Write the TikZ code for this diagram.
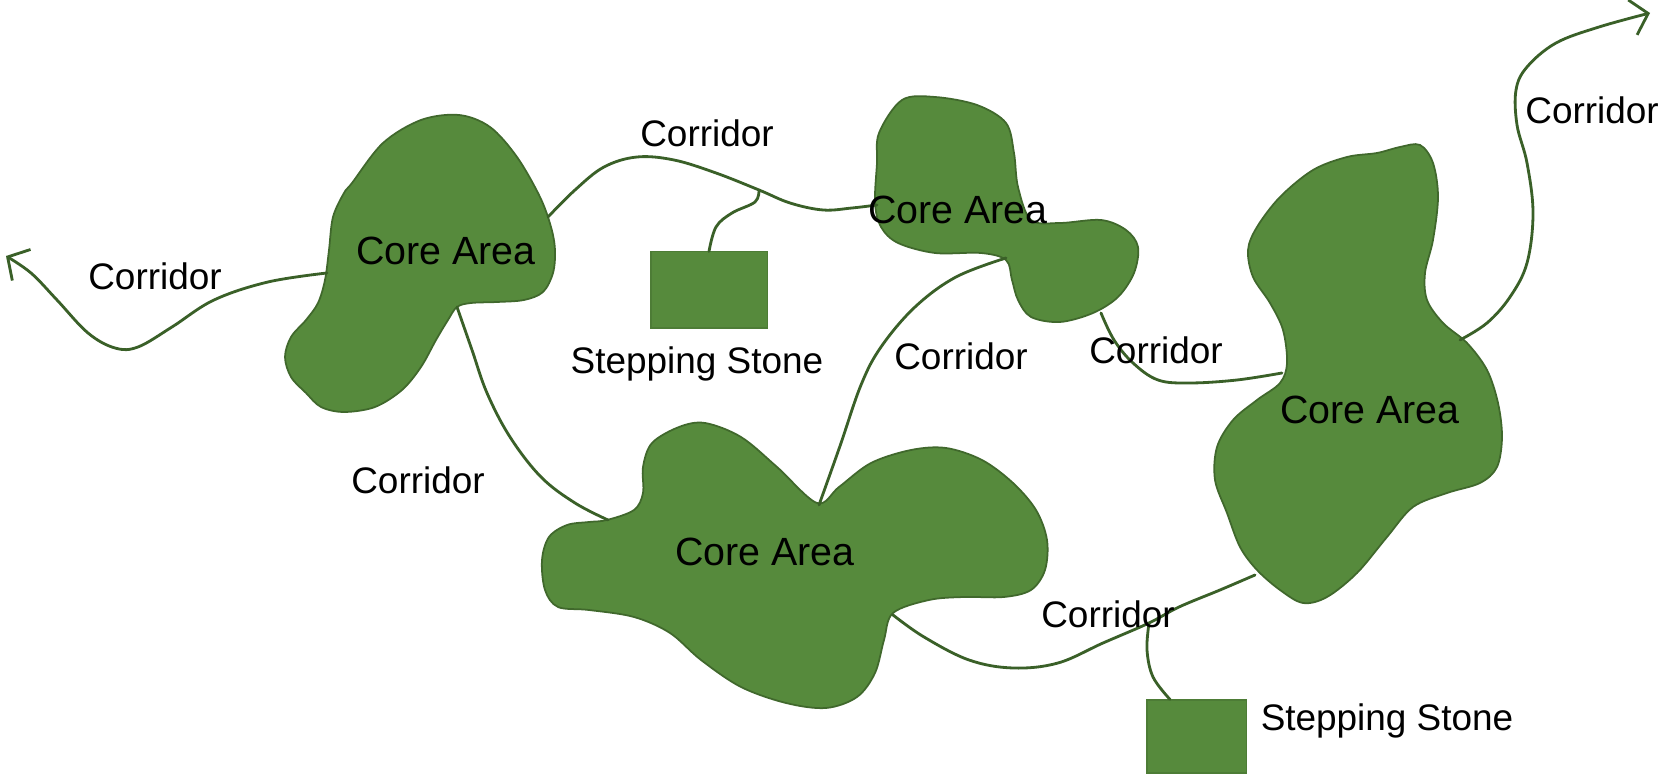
\documentclass[tikz,border=0pt]{standalone}
\usepackage{fontspec}
\setmainfont{Liberation Sans}
\usetikzlibrary{arrows.meta}
\definecolor{blobgreen}{RGB}{86,138,60}
\definecolor{linegreen}{RGB}{58,96,40}
\tikzset{
  blob/.style={fill=blobgreen, draw=linegreen!80!blobgreen, line width=0.5pt},
  corr/.style={draw=linegreen, line width=0.8pt, line cap=round},
  corrarrow/.style={corr, -{Straight Barb[length=1.6mm,width=3.6mm,line width=0.8pt]}},
  stonebox/.style={fill=blobgreen, draw=blobgreen!90!black, line width=0.3pt, inner sep=0pt},
  lbl/.style={font=\fontsize{10.5}{12}\selectfont, text=black, inner sep=0pt},
  corelbl/.style={font=\fontsize{11.2}{13}\selectfont, text=black, inner sep=0pt}
}
\begin{document}
\begin{tikzpicture}[x=0.01cm,y=-0.01cm]
\useasboundingbox (0,0) rectangle (1667,777);
\fill[white] (0,0) rectangle (1667,777);

% ---- Core area blobs ----
% A (left)
\path[blob] plot[smooth cycle, tension=0.55] coordinates {
 (352,183) (383,143) (421,120) (459,115) (490,127) (517,157) (540,197)
 (551,227) (555,250) (553,273) (543,292) (524,300) (497,302) (471,303)
 (457,307) (448,320) (436,340) (421,367) (402,390) (375,407) (344,412)
 (321,407) (306,393) (291,377) (285,357) (291,337) (306,320) (318,303)
 (325,280) (329,250) (333,217) (344,193)};
% B (top middle)
\path[blob] plot[smooth cycle, tension=0.55] coordinates {
 (879,133) (902,100) (935,97) (977,105) (1006,123) (1014,153) (1018,187)
 (1031,220) (1060,223) (1101,220) (1126,230) (1138,247) (1134,273)
 (1118,297) (1093,313) (1060,322) (1031,317) (1018,300) (1012,280)
 (1006,260) (981,253) (935,253) (898,243) (881,227) (875,203) (877,163)};
% C (right)
\path[blob] plot[smooth cycle, tension=0.55] coordinates {
 (1420,145) (1433,163) (1438,197) (1433,240) (1425,273) (1427,300)
 (1443,323) (1467,343) (1487,370) (1498,403) (1502,437) (1497,467)
 (1480,483) (1447,493) (1413,507) (1387,537) (1357,573) (1327,597)
 (1303,603) (1280,590) (1257,570) (1240,547) (1227,513) (1215,480)
 (1217,447) (1233,420) (1257,400) (1280,383) (1287,363) (1283,330)
 (1270,303) (1253,277) (1248,250) (1257,227) (1280,197) (1313,170)
 (1347,157) (1377,153) (1400,147)};
% D (bottom)
\path[blob] plot[smooth cycle, tension=0.55] coordinates {
 (607,520) (634,510) (643,493) (643,467) (652,443) (679,427) (705,423)
 (741,437) (777,467) (817,503) (839,487) (871,463) (911,450) (946,448)
 (982,460) (1013,483) (1036,510) (1047,540) (1045,570) (1031,590)
 (1004,597) (964,597) (929,600) (893,613) (884,640) (875,673) (857,697)
 (826,708) (786,703) (741,687) (701,660) (670,633) (634,617) (589,610)
 (558,607) (545,590) (542,560) (549,537) (567,525) (589,522)};

% ---- Stepping stones ----
\node[stonebox, minimum width=1.16cm, minimum height=0.76cm] (s1) at (709,290) {};
\node[stonebox, minimum width=0.99cm, minimum height=0.73cm] (s2) at (1196.5,736.5) {};

% ---- connector end points ----
\coordinate (aL) at (327,273);
\coordinate (tipL) at (6,256);
\coordinate (aT) at (548,217);
\coordinate (bL) at (877,205);
\coordinate (j1) at (759,190);
\coordinate (aB) at (457,307);
\coordinate (dL) at (608,520);
\coordinate (bB) at (1006,258);
\coordinate (dT) at (819,505);
\coordinate (bR) at (1101,313);
\coordinate (cL) at (1282,373);
\coordinate (cR) at (1460,340);
\coordinate (tipR) at (1650,13);
\coordinate (dR) at (893,615);
\coordinate (cB) at (1255,575);
\coordinate (j2) at (1149,623);
\coordinate (s2top) at ([xshift=-0.265cm]s2.north);

% ---- corridors ----
\draw[corrarrow] plot[smooth, tension=0.6] coordinates {
 (aL) (268,282) (214,300) (172,327) (138,347) (115,348) (88,333) (57,300) (31,273) (tipL)};
\draw[corr] plot[smooth, tension=0.6] coordinates {
 (aT) (575,190) (604,167) (637,157) (674,160) (716,173) (j1) (790,203) (823,210) (852,208) (bL)};
\draw[corr] plot[smooth, tension=0.6] coordinates {
 (j1) (755,202) (732,213) (716,227) (s1.north)};
\draw[corr] plot[smooth, tension=0.6] coordinates {
 (aB) (472,350) (487,393) (510,437) (541,477) (575,503) (dL)};
\draw[corr] plot[smooth, tension=0.6] coordinates {
 (bB) (956,277) (915,307) (881,347) (861,385) (840,446) (dT)};
\draw[corr] plot[smooth, tension=0.6] coordinates {
 (bR) (1114,340) (1133,363) (1158,380) (1190,383) (1237,380) (cL)};
\draw[corrarrow] plot[smooth, tension=0.6] coordinates {
 (cR) (1487,323) (1510,297) (1527,263) (1533,213) (1527,163) (1517,125) (1516,90) (1527,67) (1556,43) (1599,27) (tipR)};
\draw[corr] plot[smooth, tension=0.6] coordinates {
 (dR) (924,637) (969,660) (1013,668) (1058,663) (1103,643) (j2) (1179,607) (1220,590) (cB)};
\draw[corr] plot[smooth, tension=0.6] coordinates {
 (j2) (1147,650) (1153,677) (s2top)};

% ---- labels ----
\node[lbl] (c1) at (155,276) {Corridor};
\node[lbl] (c2) at (707,133) {Corridor};
\node[lbl] (c3) at (961,356) {Corridor};
\node[lbl] (c4) at (1156,350) {Corridor};
\node[lbl] (c5) at (1592,110) {Corridor};
\node[lbl] (c6) at (418,480) {Corridor};
\node[lbl] (c7) at (1108,614) {Corridor};
\node[lbl] (st1) at (697,364) {Stepping Stone};
\node[lbl] (st2) at (1387,721) {Stepping Stone};
\node[corelbl] (kA) at (446,251) {Core Area};
\node[corelbl] (kB) at (958,210) {Core Area};
\node[corelbl] (kC) at (1370,410) {Core Area};
\node[corelbl] (kD) at (765,552) {Core Area};
\end{tikzpicture}
\end{document}
